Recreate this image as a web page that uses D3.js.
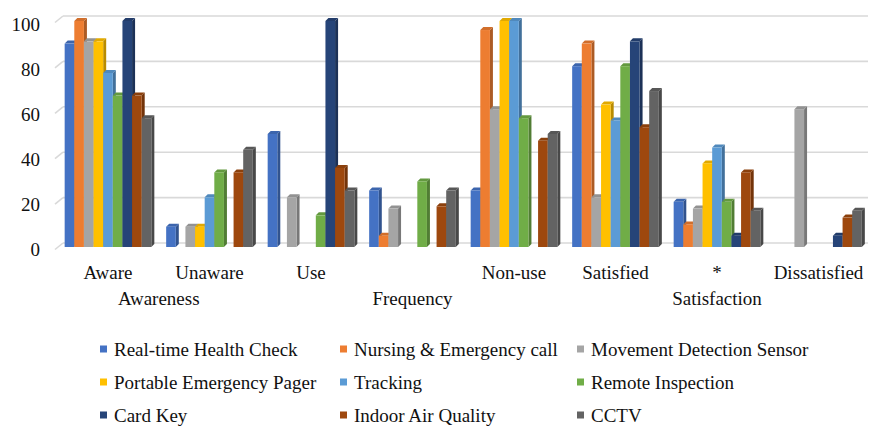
<!DOCTYPE html>
<html>
<head>
<meta charset="utf-8">
<script src="https://cdn.jsdelivr.net/npm/d3@7"></script>
<style>
  html, body { margin: 0; padding: 0; background: #fff; }
  svg { display: block; }
</style>
</head>
<body>
<svg id="chart" width="870" height="426" font-family="'Liberation Serif', 'DejaVu Serif', 'Times New Roman', serif"></svg>
<script>
// Categories along the x axis and their section headings
const categories = ["Aware", "Unaware", "Use", "", "Non-use", "Satisfied", "*", "Dissatisfied"];
const sections = [
  { name: "Awareness", from: 0, to: 1 },
  { name: "Frequency", from: 2, to: 4 },
  { name: "Satisfaction", from: 5, to: 7 }
];
const yTicks = [0, 20, 40, 60, 80, 100];

// Series names, colours and values (one value per category)
const seriesNames = [
  "Real-time Health Check", "Nursing & Emergency call", "Movement Detection Sensor",
  "Portable Emergency Pager", "Tracking", "Remote Inspection",
  "Card Key", "Indoor Air Quality", "CCTV"
];
const seriesColors = ["#4472C4", "#ED7D31", "#A5A5A5", "#FFC000", "#5B9BD5", "#70AD47", "#264478", "#9E480E", "#636363"];

const realTimeHealthCheck   = [90, 9, 50, 25, 25, 80, 20, 0];
const nursingEmergencyCall  = [100, 0, 0, 5, 96, 90, 10, 0];
const movementDetection     = [91, 9, 22, 17, 61, 22, 17, 61];
const portablePager         = [91, 9, 0, 0, 100, 63, 37, 0];
const tracking              = [77, 22, 0, 0, 100, 56, 44, 0];
const remoteInspection      = [67, 33, 14, 29, 57, 80, 20, 0];
const cardKey               = [100, 0, 100, 0, 0, 91, 5, 5];
const indoorAirQuality      = [67, 33, 35, 18, 47, 53, 33, 13];
const cctv                  = [57, 43, 25, 25, 50, 69, 16, 16];

const seriesValues = [realTimeHealthCheck, nursingEmergencyCall, movementDetection,
  portablePager, tracking, remoteInspection, cardKey, indoorAirQuality, cctv];

const svg = d3.select("#chart");
const fontSize = "19px";
const textColor = "#111";

// Scales: front face of bars, back wall (gridlines), and tick labels
const x0 = d3.scaleBand().domain(d3.range(categories.length)).range([57.25, 869.25]).padding(0);
const x1 = d3.scaleBand().domain(d3.range(seriesNames.length)).range([0, x0.bandwidth()])
  .paddingInner(0).paddingOuter(0.77);
const yFront = d3.scaleLinear().domain([0, 100]).range([247, 21]);
const yBack = d3.scaleLinear().domain([0, 100]).range([243, 16]);
const yLabel = d3.scaleLinear().domain([0, 100]).range([249, 24]);

const depthX = 3, depthY = 3;

// Gridlines on the back wall with the short floor/side diagonal
const grid = svg.append("g");
yTicks.forEach(t => {
  const yb = yBack(t);
  grid.append("line").attr("x1", 63).attr("x2", 868).attr("y1", yb).attr("y2", yb)
    .attr("stroke", "#d9d9d9").attr("stroke-width", 1.6);
  grid.append("line").attr("x1", 55).attr("x2", 63).attr("y1", yb + 6.5).attr("y2", yb)
    .attr("stroke", "#d9d9d9").attr("stroke-width", 1.6);
});

// Y tick labels
svg.append("g").selectAll("text").data(yTicks).join("text")
  .attr("x", 40).attr("y", d => yLabel(d))
  .attr("text-anchor", "end").attr("dominant-baseline", "central")
  .attr("font-size", fontSize).attr("fill", textColor)
  .text(d => d);

// 3D-style bars: front face, top face and right side face
const bars = svg.append("g");
categories.forEach((cat, ci) => {
  seriesValues.forEach((vals, si) => {
    const v = vals[ci];
    if (!v) return;
    const color = d3.color(seriesColors[si]);
    const x = x0(ci) + x1(si);
    const w = x1.bandwidth();
    const yt = yFront(v);
    const yb = yFront(0);
    const g = bars.append("g");
    g.append("path")
      .attr("d", `M${x + w},${yt} L${x + w + depthX},${yt - depthY} L${x + w + depthX},${yb - depthY} L${x + w},${yb} Z`)
      .attr("fill", color.darker(0.9));
    g.append("path")
      .attr("d", `M${x},${yt} L${x + depthX},${yt - depthY} L${x + w + depthX},${yt - depthY} L${x + w},${yt} Z`)
      .attr("fill", color.darker(0.35));
    g.append("rect").attr("x", x).attr("y", yt).attr("width", w).attr("height", yb - yt)
      .attr("fill", color);
  });
});

// Category labels
svg.append("g").selectAll("text").data(categories).join("text")
  .attr("x", (d, i) => x0(i) + x0.bandwidth() / 2)
  .attr("y", 272)
  .attr("text-anchor", "middle").attr("dominant-baseline", "central")
  .attr("font-size", fontSize).attr("fill", textColor)
  .text(d => d);

// Section labels
svg.append("g").selectAll("text").data(sections).join("text")
  .attr("x", d => (x0(d.from) + x0(d.to) + x0.bandwidth()) / 2)
  .attr("y", 298)
  .attr("text-anchor", "middle").attr("dominant-baseline", "central")
  .attr("font-size", fontSize).attr("fill", textColor)
  .text(d => d.name);

// Legend: three columns, three rows
const legendCols = [100, 340, 577];
const legendRows = [349, 382, 415];
const legend = svg.append("g");
seriesNames.forEach((name, i) => {
  const cx = legendCols[i % 3];
  const cy = legendRows[Math.floor(i / 3)];
  legend.append("rect").attr("x", cx).attr("y", cy - 3.5).attr("width", 7).attr("height", 7)
    .attr("fill", seriesColors[i]);
  legend.append("text").attr("x", cx + 14).attr("y", cy)
    .attr("dominant-baseline", "central")
    .attr("font-size", fontSize).attr("fill", textColor)
    .text(name);
});
</script>
</body>
</html>
